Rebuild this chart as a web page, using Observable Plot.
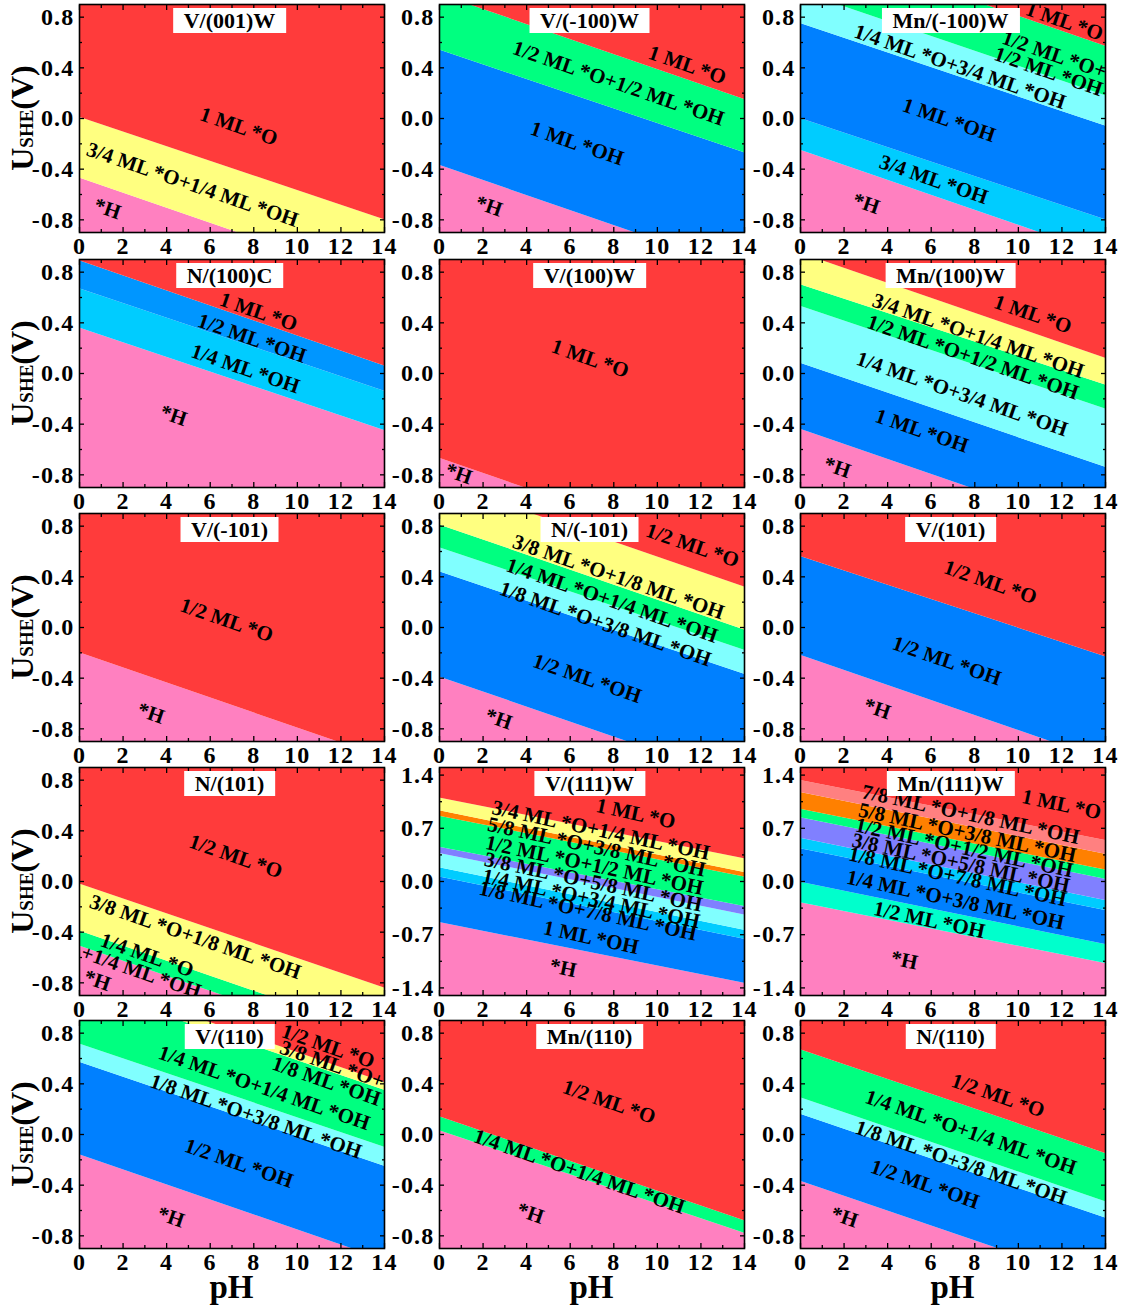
<!DOCTYPE html>
<html>
<head>
<meta charset="utf-8">
<script src="https://cdn.jsdelivr.net/npm/d3@7"></script>
<script src="https://cdn.jsdelivr.net/npm/@observablehq/plot@0.6"></script>
<style>
  html, body { margin: 0; padding: 0; background: #fff; }
  #figure { position: relative; width: 1126px; height: 1306px; overflow: hidden;
            font-family: "Liberation Serif", "Times New Roman", serif; font-weight: bold; color: #000; }
  .panel { position: absolute; }
  .title { position: absolute; background: #fff; font-size: 22px; line-height: 25px; height: 25px;
           padding: 0 11px; transform: translateX(-50%); white-space: nowrap; }
  .ylabel { position: absolute; font-size: 32px; line-height: 32px; white-space: nowrap;
            transform: translate(-50%, -50%) rotate(-90deg); }
  .ylabel span { font-size: 19px; }
  .xlabel { position: absolute; font-size: 33px; line-height: 20px; transform: translateX(-50%); }
  g[aria-label="x-axis tick label"], g[aria-label="y-axis tick label"] { letter-spacing: 1.2px; }
</style>
</head>
<body>
<div id="figure"></div>
<script>
// ---- axes ----
const pHEnds = [0, 14];
const xTicks = [0, 2, 4, 6, 8, 10, 12, 14];
const xMinorTicks = [1, 3, 5, 7, 9, 11, 13];
const yDomain = [-0.9, 0.9];
const yTicks = [-0.8, -0.4, 0, 0.4, 0.8];
const yMinorTicks = [-0.6, -0.2, 0.2, 0.6];
const yDomainWide = [-1.5, 1.5];
const yTicksWide = [-1.4, -0.7, 0, 0.7, 1.4];
const yMinorTicksWide = [-1.05, -0.35, 0.35, 1.05];

// ---- surfaces (panel titles, reading order) ----
const titles = ["V/(001)W", "V/(-100)W", "Mn/(-100)W",
                "N/(100)C", "V/(100)W", "Mn/(100)W",
                "V/(-101)", "N/(-101)", "V/(101)",
                "N/(101)", "V/(111)W", "Mn/(111)W",
                "V/(110)", "Mn/(110)", "N/(110)"];

// ---- phases (bottom to top) and phase boundaries [U at pH 0, U at pH 14] ----
const v001wPhases = ["*H", "3/4 ML *O+1/4 ML *OH", "1 ML *O"];
const v001wBounds = [[-0.47, -1.30], [0.01, -0.80]];

const vm100wPhases = ["*H", "1 ML *OH", "1/2 ML *O+1/2 ML *OH", "1 ML *O"];
const vm100wBounds = [[-0.37, -1.20], [0.54, -0.27], [0.98, 0.15]];

const mnm100wPhases = ["*H", "3/4 ML *OH", "1 ML *OH", "1/4 ML *O+3/4 ML *OH", "1/2 ML *O+\n1/2 ML *OH", "1 ML *O"];
const mnm100wBounds = [[-0.25, -1.08], [0.00, -0.80], [0.75, -0.06], [1.00, 0.18], [1.40, 0.57]];

const n100cPhases = ["*H", "1/4 ML *OH", "1/2 ML *OH", "1 ML *O"];
const n100cBounds = [[0.36, -0.45], [0.67, -0.14], [0.89, 0.06]];

const v100wPhases = ["*H", "1 ML *O"];
const v100wBounds = [[-0.67, -1.50]];

const mn100wPhases = ["*H", "1 ML *OH", "1/4 ML *O+3/4 ML *OH", "1/2 ML *O+1/2 ML *OH", "3/4 ML *O+1/4 ML *OH", "1 ML *O"];
const mn100wBounds = [[-0.44, -1.27], [0.08, -0.74], [0.53, -0.28], [0.70, -0.09], [0.95, 0.12]];

const vm101Phases = ["*H", "1/2 ML *O"];
const vm101Bounds = [[-0.20, -1.03]];

const nm101Phases = ["*H", "1/2 ML *OH", "1/8 ML *O+3/8 ML *OH", "1/4 ML *O+1/4 ML *OH", "3/8 ML *O+1/8 ML *OH", "1/2 ML *O"];
const nm101Bounds = [[-0.39, -1.22], [0.44, -0.37], [0.63, -0.18], [0.81, -0.02], [1.15, 0.32]];

const v101Phases = ["*H", "1/2 ML *OH", "1/2 ML *O"];
const v101Bounds = [[-0.22, -1.05], [0.56, -0.23]];

const n101Phases = ["*H", "1/4 ML *O\n+1/4 ML *OH", "3/8 ML *O+1/8 ML *OH", "1/2 ML *O"];
const n101Bounds = [[-0.51, -1.34], [-0.39, -1.22], [-0.02, -0.84]];

const v111wPhases = ["*H", "1 ML *OH", "1/8 ML *O+7/8 ML *OH", "1/4 ML *O+3/4 ML *OH", "3/8 ML *O+5/8 ML *OH",
                     "1/2 ML *O+1/2 ML *OH", "5/8 ML *O+3/8 ML *OH", "3/4 ML *O+1/4 ML *OH", "1 ML *O"];
const v111wBounds = [[-0.54, -1.34], [0.06, -0.76], [0.18, -0.64], [0.37, -0.44],
                     [0.45, -0.33], [0.86, 0.06], [0.93, 0.12], [1.10, 0.30]];

const mn111wPhases = ["*H", "1/2 ML *OH", "1/4 ML *O+3/8 ML *OH", "1/8 ML *O+7/8 ML *OH", "3/8 ML *O+5/8 ML *OH",
                      "1/2 ML *O+1/2 ML *OH", "5/8 ML *O+3/8 ML *OH", "7/8 ML *O+1/8 ML *OH", "1 ML *O"];
const mn111wBounds = [[-0.28, -1.08], [-0.01, -0.83], [0.43, -0.38], [0.57, -0.25],
                      [0.84, 0.03], [0.95, 0.15], [1.17, 0.36], [1.33, 0.54]];

const v110Phases = ["*H", "1/2 ML *OH", "1/8 ML *O+3/8 ML *OH", "1/4 ML *O+1/4 ML *OH", "3/8 ML *O+\n1/8 ML *OH", "1/2 ML *O"];
const v110Bounds = [[-0.16, -0.99], [0.57, -0.25], [0.715, -0.10], [1.17, 0.35], [1.24, 0.41]];

const mn110Phases = ["*H", "1/4 ML *O+1/4 ML *OH", "1/2 ML *O"];
const mn110Bounds = [[0.03, -0.78], [0.14, -0.68]];

const n110Phases = ["*H", "1/2 ML *OH", "1/8 ML *O+3/8 ML *OH", "1/4 ML *O+1/4 ML *OH", "1/2 ML *O"];
const n110Bounds = [[-0.37, -1.19], [0.16, -0.66], [0.29, -0.53], [0.67, -0.15]];

// ---- styling: phase colours ----
const palette = {
  R: "#ff3b3b", Y: "#ffff80", P: "#ff80c0", G: "#00ff80", B: "#0080ff", B2: "#0096ff",
  C: "#00ccff", L: "#80ffff", O: "#ff8000", V: "#8080ff", S: "#ff8080", T: "#00ffcc"
};
const fills = [
  ["P", "Y", "R"],
  ["P", "B", "G", "R"],
  ["P", "C", "B", "L", "G", "R"],
  ["P", "C", "B2", "R"],
  ["P", "R"],
  ["P", "B", "L", "G", "Y", "R"],
  ["P", "R"],
  ["P", "B", "L", "G", "Y", "R"],
  ["P", "B", "R"],
  ["P", "G", "Y", "R"],
  ["P", "B", "C", "L", "V", "G", "O", "Y", "R"],
  ["P", "T", "B", "C", "V", "G", "O", "S", "R"],
  ["P", "B", "L", "G", "Y", "R"],
  ["P", "G", "R"],
  ["P", "B", "L", "G", "R"]
];

// ---- layout: label anchors [pH, U] per phase ----
const labelAt = [
  [[1.27, -0.72], [5.17, -0.53], [7.3, -0.07]],
  [[2.25, -0.70], [6.3, -0.205], [8.2, 0.27], [11.36, 0.415]],
  [[3.0, -0.68], [6.1, -0.49], [6.8, -0.02], [7.3, 0.40], [11.5, 0.43], [12.1, 0.76]],
  [[4.3, -0.34], [7.6, 0.03], [7.9, 0.27], [8.2, 0.48]],
  [[0.87, -0.80], [6.9, 0.11]],
  [[1.67, -0.75], [5.55, -0.46], [7.4, -0.17], [7.9, 0.12], [8.14, 0.29], [10.65, 0.46]],
  [[3.26, -0.685], [6.74, 0.05]],
  [[2.7, -0.73], [6.76, -0.41], [7.6, 0.02], [7.9, 0.205], [8.2, 0.39], [11.6, 0.64]],
  [[3.5, -0.65], [6.7, -0.27], [8.7, 0.35]],
  [[0.8, -0.79], [2.95, -0.655], [5.3, -0.445], [7.16, 0.19]],
  [[5.66, -1.15], [6.95, -0.75], [6.8, -0.40], [6.95, -0.24], [7.05, -0.02], [7.1, 0.20], [7.2, 0.44], [7.4, 0.66], [9.0, 0.88]],
  [[4.75, -1.05], [5.9, -0.52], [7.1, -0.255], [7.2, 0.05], [7.35, 0.23], [7.5, 0.43], [7.65, 0.63], [7.8, 0.87], [11.97, 1.0]],
  [[4.18, -0.66], [7.3, -0.235], [8.08, 0.135], [8.46, 0.36], [11.45, 0.48], [11.4, 0.69]],
  [[4.16, -0.63], [6.4, -0.30], [7.77, 0.25]],
  [[2.0, -0.66], [5.7, -0.40], [7.35, -0.23], [7.8, 0.01], [9.05, 0.30]]
];

const phaseSets = [v001wPhases, vm100wPhases, mnm100wPhases, n100cPhases, v100wPhases, mn100wPhases,
                   vm101Phases, nm101Phases, v101Phases, n101Phases, v111wPhases, mn111wPhases,
                   v110Phases, mn110Phases, n110Phases];
const boundSets = [v001wBounds, vm100wBounds, mnm100wBounds, n100cBounds, v100wBounds, mn100wBounds,
                   vm101Bounds, nm101Bounds, v101Bounds, n101Bounds, v111wBounds, mn111wBounds,
                   v110Bounds, mn110Bounds, n110Bounds];
const widePanels = new Set(["V/(111)W", "Mn/(111)W"]);

// ---- page geometry ----
const colLeft = [79, 439, 800];
const rowTop = [4, 259, 513, 767, 1020];
const frameW = 305, frameH = 228;
const mL = 64, mR = 14, mT = 6, mB = 38;
const font = "Liberation Serif, Times New Roman, serif";

function drawPanel(idx) {
  const title = titles[idx];
  const phases = phaseSets[idx];
  const bounds = boundSets[idx];
  const wide = widePanels.has(title);
  const dom = wide ? yDomainWide : yDomain;
  const yt = wide ? yTicksWide : yTicks;
  const ym = wide ? yMinorTicksWide : yMinorTicks;
  const floor = dom[0] - 3, ceil = dom[1] + 3; // extents beyond the frame (clipped)
  const rot = wide ? 12 : 19;

  const areaMarks = phases.map((name, i) => {
    const lower = i === 0 ? null : bounds[i - 1];
    const upper = i === phases.length - 1 ? null : bounds[i];
    const pts = pHEnds.map((ph, k) => ({
      pH: ph,
      lo: lower ? lower[k] : floor,
      hi: upper ? upper[k] : ceil
    }));
    return Plot.areaY(pts, {x: "pH", y1: "lo", y2: "hi", fill: palette[fills[idx][i]], clip: true});
  });

  const labels = phases.map((name, i) => ({text: name, pH: labelAt[idx][i][0], U: labelAt[idx][i][1]}));

  const tickOpts = {fill: "none", label: null, stroke: "black", strokeWidth: 1.3};
  return Plot.plot({
    width: mL + frameW + mR,
    height: mT + frameH + mB,
    marginLeft: mL, marginRight: mR, marginTop: mT, marginBottom: mB,
    x: {domain: [0, 14]},
    y: {domain: dom},
    style: {background: "transparent", overflow: "visible", fontFamily: font, fontWeight: "bold", fontSize: "24px", color: "black"},
    marks: [
      ...areaMarks,
      Plot.text(labels, {x: "pH", y: "U", text: "text", rotate: rot, fontSize: 21, fontWeight: "bold",
                         fontFamily: font, fill: "black", lineHeight: 0.85, clip: true}),
      Plot.axisX(xTicks, {tickSize: 0, tickPadding: 4, label: null, tickFormat: d => String(d), fontSize: 24}),
      Plot.axisY(yt, {tickSize: 0, tickPadding: 5, label: null, tickFormat: d => d.toFixed(1), fontSize: 24}),
      Plot.axisX(xTicks, {...tickOpts, anchor: "bottom", tickSize: -5}),
      Plot.axisX(xTicks, {...tickOpts, anchor: "top", tickSize: -5}),
      Plot.axisX(xMinorTicks, {...tickOpts, anchor: "bottom", tickSize: -3}),
      Plot.axisX(xMinorTicks, {...tickOpts, anchor: "top", tickSize: -3}),
      Plot.axisY(yt, {...tickOpts, anchor: "left", tickSize: -5}),
      Plot.axisY(yt, {...tickOpts, anchor: "right", tickSize: -5}),
      Plot.axisY(ym, {...tickOpts, anchor: "left", tickSize: -3}),
      Plot.axisY(ym, {...tickOpts, anchor: "right", tickSize: -3}),
      Plot.frame({stroke: "black", strokeWidth: 1.6})
    ]
  });
}

const fig = document.getElementById("figure");
titles.forEach((t, idx) => {
  const r = Math.floor(idx / 3), c = idx % 3;
  const holder = document.createElement("div");
  holder.className = "panel";
  holder.style.left = (colLeft[c] - mL) + "px";
  holder.style.top = (rowTop[r] - mT) + "px";
  holder.appendChild(drawPanel(idx));
  fig.appendChild(holder);

  const tb = document.createElement("div");
  tb.className = "title";
  tb.textContent = t;
  tb.style.left = (colLeft[c] + frameW / 2 - 2) + "px";
  tb.style.top = (rowTop[r] + 4) + "px";
  fig.appendChild(tb);
});

// axis titles
rowTop.forEach(top => {
  const yl = document.createElement("div");
  yl.className = "ylabel";
  yl.innerHTML = "U<span>SHE</span>(V)";
  yl.style.left = "24px";
  yl.style.top = (top + frameH / 2) + "px";
  fig.appendChild(yl);
});
colLeft.forEach(left => {
  const xl = document.createElement("div");
  xl.className = "xlabel";
  xl.textContent = "pH";
  xl.style.left = (left + frameW / 2) + "px";
  xl.style.top = "1277px";
  fig.appendChild(xl);
});
</script>
</body>
</html>
